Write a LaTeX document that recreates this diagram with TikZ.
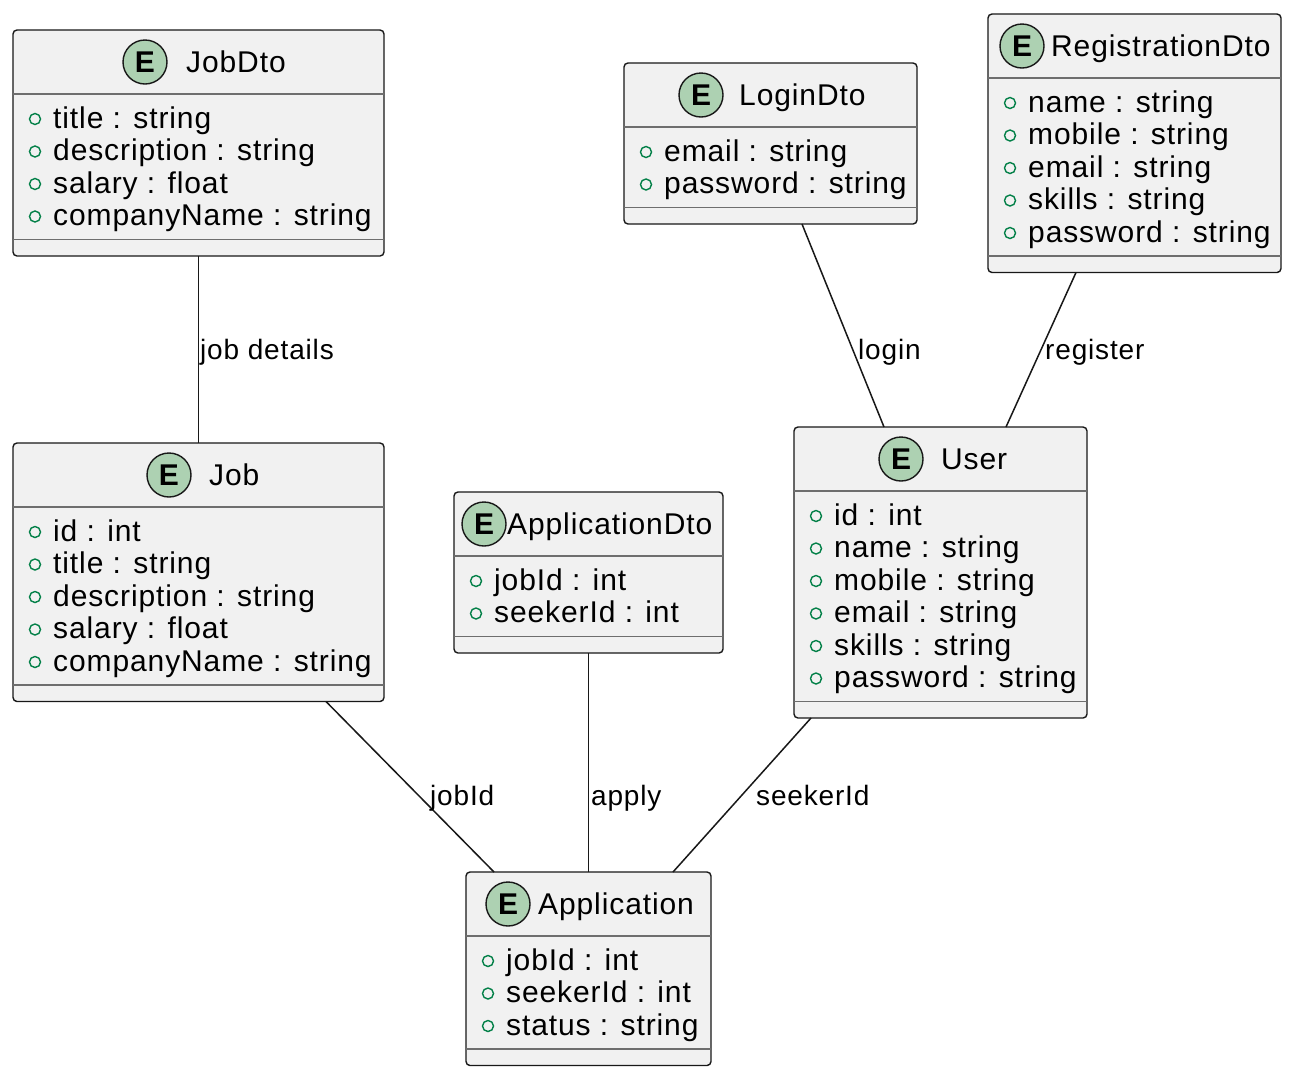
\documentclass[tikz,border=0pt]{standalone}
\usepackage{fontspec}
\setmainfont{Liberation Sans}[LetterSpace=3]
\newfontfamily\badgefont{Liberation Sans}
\usetikzlibrary{calc}

\definecolor{boxfill}{HTML}{F1F1F1}
\definecolor{boxline}{HTML}{181818}
\definecolor{badgefill}{HTML}{ADD1B2}
\definecolor{pubmark}{HTML}{038048}
\definecolor{sepline}{HTML}{6E6E6E}

\tikzset{
  entitybox/.style={draw=boxline, fill=boxfill, line width=1.4pt, rounded corners=4pt,
    inner sep=0pt, outer sep=0pt, anchor=north west},
  badge/.style={circle, draw=boxline, fill=badgefill, line width=1.4pt, minimum size=44pt,
    inner sep=0pt, font=\badgefont\bfseries\fontsize{30}{30}\selectfont},
  titletext/.style={anchor=base west, inner sep=0pt, font=\fontsize{30}{36}\selectfont},
  attrtext/.style={anchor=base west, inner sep=0pt, font=\fontsize{30}{36}\selectfont},
  pubdot/.style={draw=pubmark, line width=1.4pt},
  sep/.style={draw=sepline, line width=1.4pt},
  edge/.style={draw=boxline, line width=1.5pt},
  edgelabel/.style={anchor=base west, inner sep=0pt, font=\fontsize{28}{34}\selectfont},
}

% \entity{name}{left}{right}{top}{badge x}{title x}{title}{attributes}{count}
\newcommand\entity[9]{%
  \pgfmathsetmacro\boxh{96+32.5*#9}%
  \node[entitybox, minimum width={(#3-#2)*1pt}, minimum height={\boxh*1pt}] (#1) at (#2,-#4) {};
  \node[badge] (#1-badge) at (#5,{-(#4+32)}) {E};
  \node[titletext] (#1-title) at (#6,{-(#4+42)}) {#7};
  \draw[sep] (#2,{-(#4+64)}) -- (#3,{-(#4+64)});
  \draw[sep] (#2,{-(#4+79.5+32.5*#9)}) -- (#3,{-(#4+79.5+32.5*#9)});
  \foreach \a [count=\i from 0] in {#8} {
    \draw[pubdot] (#2+22,{-(#4+89+32.5*\i)}) circle[radius=5.5pt];
    \node[attrtext] (#1-attr\i) at (#2+40,{-(#4+98+32.5*\i)}) {\a};
  }
}

\begin{document}
\begin{tikzpicture}[x=1pt,y=-1pt]
  \fill[white] (0,0) rectangle (1296,1080);
  \useasboundingbox (0,0) rectangle (1296,1080);

  \begin{scope}[y=1pt]
  \entity{jobdto}{13}{384}{30}{145}{186}{JobDto}%
    {title : string, description : string, salary : float, companyName : string}{4}
  \entity{job}{13}{384}{443}{169}{209}{Job}%
    {id : int, title : string, description : string, salary : float, companyName : string}{5}
  \entity{appdto}{454}{723}{492}{484}{507}{ApplicationDto}%
    {jobId : int, seekerId : int}{2}
  \entity{application}{466}{711}{872}{508}{538}{Application}%
    {jobId : int, seekerId : int, status : string}{3}
  \entity{user}{794}{1087}{427}{901}{941}{User}%
    {id : int, name : string, mobile : string, email : string, skills : string, password : string}{6}
  \entity{logindto}{624}{917}{63}{701}{739}{LoginDto}%
    {email : string, password : string}{2}
  \entity{regdto}{988}{1281}{14}{1022}{1051}{RegistrationDto}%
    {name : string, mobile : string, email : string, skills : string, password : string}{5}

  % relations
  \draw[edge] (jobdto.south) -- (job.north);
  \draw[edge] ([xshift=178pt]logindto.south west) -- ([xshift=90pt]user.north west);
  \draw[edge] ([xshift=88pt]regdto.south west) -- ([xshift=212pt]user.north west);
  \draw[edge] ([xshift=313pt]job.south west) -- ([xshift=28pt]application.north west);
  \draw[edge] (appdto.south) -- (application.north);
  \draw[edge] ([xshift=17pt]user.south west) -- ([xshift=207pt]application.north west);

  \node[edgelabel] (l-jobdetails) at (200,-359) {job details};
  \node[edgelabel] (l-login) at (858,-359) {login};
  \node[edgelabel] (l-register) at (1045,-359) {register};
  \node[edgelabel] (l-jobid) at (430,-805) {jobId};
  \node[edgelabel] (l-apply) at (591,-805) {apply};
  \node[edgelabel] (l-seekerid) at (756,-805) {seekerId};
  \end{scope}
\end{tikzpicture}
\end{document}
